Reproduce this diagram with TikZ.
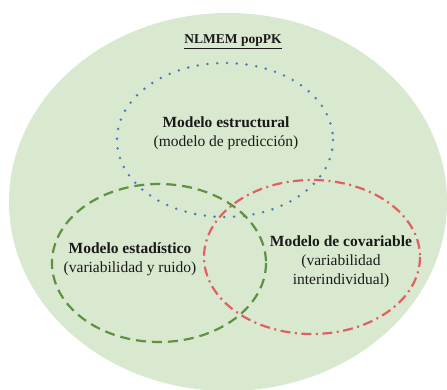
\documentclass[tikz,border=0pt]{standalone}
\usepackage{fontspec}
\setmainfont{Liberation Serif}
\definecolor{popfill}{HTML}{D9E9CF}
\definecolor{estblue}{HTML}{4A7DBA}
\definecolor{estgreen}{HTML}{5E9143}
\definecolor{covred}{HTML}{E06060}
\tikzset{
  estruct/.style={color=estblue, line width=2.8pt, line cap=round, dash pattern=on 0pt off 9.8pt},
  estad/.style={color=estgreen, line width=2.2pt, dash pattern=on 10pt off 6pt},
  covar/.style={color=covred, line width=2.2pt, dash pattern=on 10pt off 4.5pt on 2pt off 4.5pt},
  every node/.append style={font=\fontsize{15.5}{19}\selectfont, align=center, text=black!90}
}
\begin{document}
\begin{tikzpicture}[x=1pt, y=-1pt]
\useasboundingbox (0,0) rectangle (447,389);
\fill[popfill] (228,202) ellipse [x radius=219, y radius=189];
\draw[estruct] (225,140) ellipse [x radius=108, y radius=77];
\draw[estad] (159,263) ellipse [x radius=107, y radius=79];
\draw[covar] (312,257) ellipse [x radius=108, y radius=77];
\node[font=\fontsize{13.5}{16}\selectfont] (title) at (233,42) {\underline{\textbf{NLMEM popPK}}};
\node (estructural) at (226,133) {\textbf{Modelo estructural}\\(modelo de predicción)};
\node (estadistico) at (130,259) {\textbf{Modelo estadístico}\\(variabilidad y ruido)};
\node (covariable) at (341,262) {\textbf{Modelo de covariable}\\(variabilidad\\interindividual)};
\end{tikzpicture}
\end{document}
